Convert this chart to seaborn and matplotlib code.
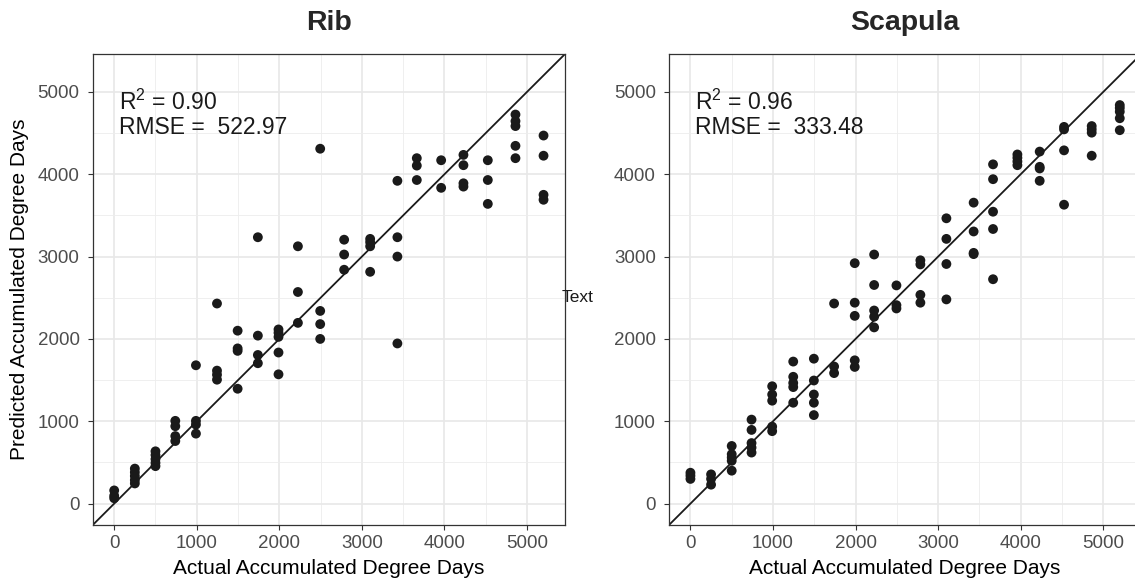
import matplotlib
matplotlib.use("Agg")
import matplotlib.pyplot as plt
from matplotlib.ticker import MultipleLocator
import pandas as pd
import seaborn as sns

# ---------------- data ----------------
rib_actual = [0, 0, 0,
              250, 250, 250, 250, 250,
              500, 500, 500, 500, 500,
              740, 740, 740, 740,
              990, 990, 990, 990,
              1245, 1245, 1245, 1245,
              1495, 1495, 1495, 1495,
              1740, 1740, 1740, 1740,
              1990, 1990, 1990, 1990, 1990,
              2225, 2225, 2225,
              2495, 2495, 2495, 2495,
              2785, 2785, 2785,
              3100, 3100, 3100, 3100,
              3430, 3430, 3430, 3430,
              3665, 3665, 3665,
              3960, 3960,
              4230, 4230, 4230, 4230,
              4525, 4525, 4525,
              4860, 4860, 4860, 4860, 4860,
              5200, 5200, 5200, 5200]
rib_pred = [160, 95, 65,
            425, 380, 335, 285, 245,
            635, 590, 540, 495, 455,
            1005, 940, 820, 760,
            1680, 1005, 960, 850,
            2430, 1615, 1565, 1505,
            2100, 1885, 1855, 1395,
            3235, 2040, 1805, 1705,
            2115, 2075, 2025, 1835, 1570,
            3125, 2570, 2195,
            4310, 2340, 2180, 2000,
            3205, 3025, 2840,
            3215, 3175, 3125, 2815,
            3920, 3235, 3000, 1945,
            4195, 4105, 3930,
            4170, 3835,
            4235, 4110, 3890, 3850,
            4170, 3930, 3640,
            4725, 4645, 4585, 4345, 4195,
            4470, 4225, 3750, 3690]

scap_actual = [0, 0, 0,
               250, 250, 250,
               500, 500, 500, 500, 500,
               740, 740, 740, 740, 740,
               990, 990, 990, 990, 990,
               1245, 1245, 1245, 1245, 1245,
               1495, 1495, 1495, 1495, 1495,
               1740, 1740, 1740,
               1990, 1990, 1990, 1990, 1990,
               2225, 2225, 2225, 2225, 2225,
               2495, 2495, 2495,
               2785, 2785, 2785, 2785,
               3100, 3100, 3100, 3100,
               3430, 3430, 3430, 3430,
               3665, 3665, 3665, 3665, 3665,
               3960, 3960, 3960, 3960,
               4230, 4230, 4230, 4230,
               4525, 4525, 4525, 4525,
               4860, 4860, 4860, 4860,
               5200, 5200, 5200, 5200, 5200]
scap_pred = [375, 340, 300,
             355, 300, 230,
             700, 600, 560, 520, 400,
             1020, 895, 735, 680, 620,
             1425, 1325, 1250, 935, 880,
             1725, 1540, 1465, 1415, 1225,
             1760, 1495, 1325, 1225, 1075,
             2430, 1665, 1585,
             2920, 2440, 2280, 1740, 1660,
             3025, 2655, 2345, 2270, 2140,
             2650, 2410, 2370,
             2955, 2905, 2535, 2440,
             3465, 3215, 2910, 2480,
             3655, 3305, 3045, 3030,
             4120, 3940, 3545, 3335, 2725,
             4240, 4200, 4155, 4110,
             4275, 4090, 4070, 3920,
             4575, 4545, 4290, 3630,
             4585, 4545, 4505, 4225,
             4840, 4805, 4760, 4680, 4535]

panel_titles = ["Rib", "Scapula"]
r2_labels = ["0.90", "0.96"]
rmse_labels = ["522.97", "333.48"]
tick_values = [0, 1000, 2000, 3000, 4000, 5000]
x_title = "Actual Accumulated Degree Days"
y_title = "Predicted Accumulated Degree Days"

# ---------------- style ----------------
sns.set_theme(style="white")
plt.rcParams["font.family"] = ["Liberation Sans", "DejaVu Sans"]
plt.rcParams["mathtext.fontset"] = "custom"
plt.rcParams["mathtext.rm"] = "Liberation Sans"
plt.rcParams["mathtext.it"] = "Liberation Sans:italic"
plt.rcParams["mathtext.bf"] = "Liberation Sans:bold"

fig = plt.figure(figsize=(11.35, 5.84), dpi=100)
fig.patch.set_facecolor("white")
ax1 = fig.add_axes([0.0817, 0.101, 0.4161, 0.8065])
ax2 = fig.add_axes([0.5894, 0.101, 0.4161, 0.8065])

datasets = [
    pd.DataFrame({"actual": rib_actual, "pred": rib_pred}),
    pd.DataFrame({"actual": scap_actual, "pred": scap_pred}),
]

lim = (-260, 5460)
for i, (ax, df) in enumerate(zip([ax1, ax2], datasets)):
    ax.set_facecolor("white")
    ax.set_xlim(*lim)
    ax.set_ylim(*lim)
    ax.set_xticks(tick_values)
    ax.set_yticks(tick_values)
    ax.xaxis.set_minor_locator(MultipleLocator(500))
    ax.yaxis.set_minor_locator(MultipleLocator(500))
    ax.grid(which="major", color="#E8E8E8", linewidth=1.2)
    ax.grid(which="minor", color="#EDEDED", linewidth=0.6)
    ax.set_axisbelow(True)
    for sp in ax.spines.values():
        sp.set_color("#333333")
        sp.set_linewidth(0.9)
        sp.set_visible(True)
    ax.tick_params(which="major", length=3.5, width=0.8, color="#333333",
                   labelcolor="#4D4D4D", labelsize=13.5, pad=4,
                   bottom=True, left=True)
    ax.tick_params(axis="y", which="major", pad=6)
    ax.tick_params(which="minor", length=0)

    ax.axline((0, 0), slope=1, color="#1a1a1a", linewidth=1.3, zorder=2)
    sns.scatterplot(data=df, x="actual", y="pred", ax=ax, color="#1a1a1a",
                    s=50, edgecolor="none", linewidth=0, zorder=3, legend=False)

    ax.set_title(panel_titles[i], fontsize=20.5, fontweight="bold", pad=17)
    ax.set_xlabel(x_title, fontsize=15, color="black", labelpad=5)
    if i == 0:
        ax.set_ylabel(y_title, fontsize=15, color="black", labelpad=6)
    else:
        ax.set_ylabel("")

    ax.text(60, 4780, "R$^2$ = " + r2_labels[i], fontsize=16.5,
            color="#1a1a1a", ha="left", va="baseline")
    ax.text(60, 4493, "RMSE =  " + rmse_labels[i], fontsize=16.5,
            color="#1a1a1a", ha="left", va="baseline")

fig.text(562 / 1135, 1 - 302 / 584, "Text", fontsize=12.5, color="#1a1a1a",
         ha="left", va="baseline")

fig.savefig("out.png", dpi=100)
